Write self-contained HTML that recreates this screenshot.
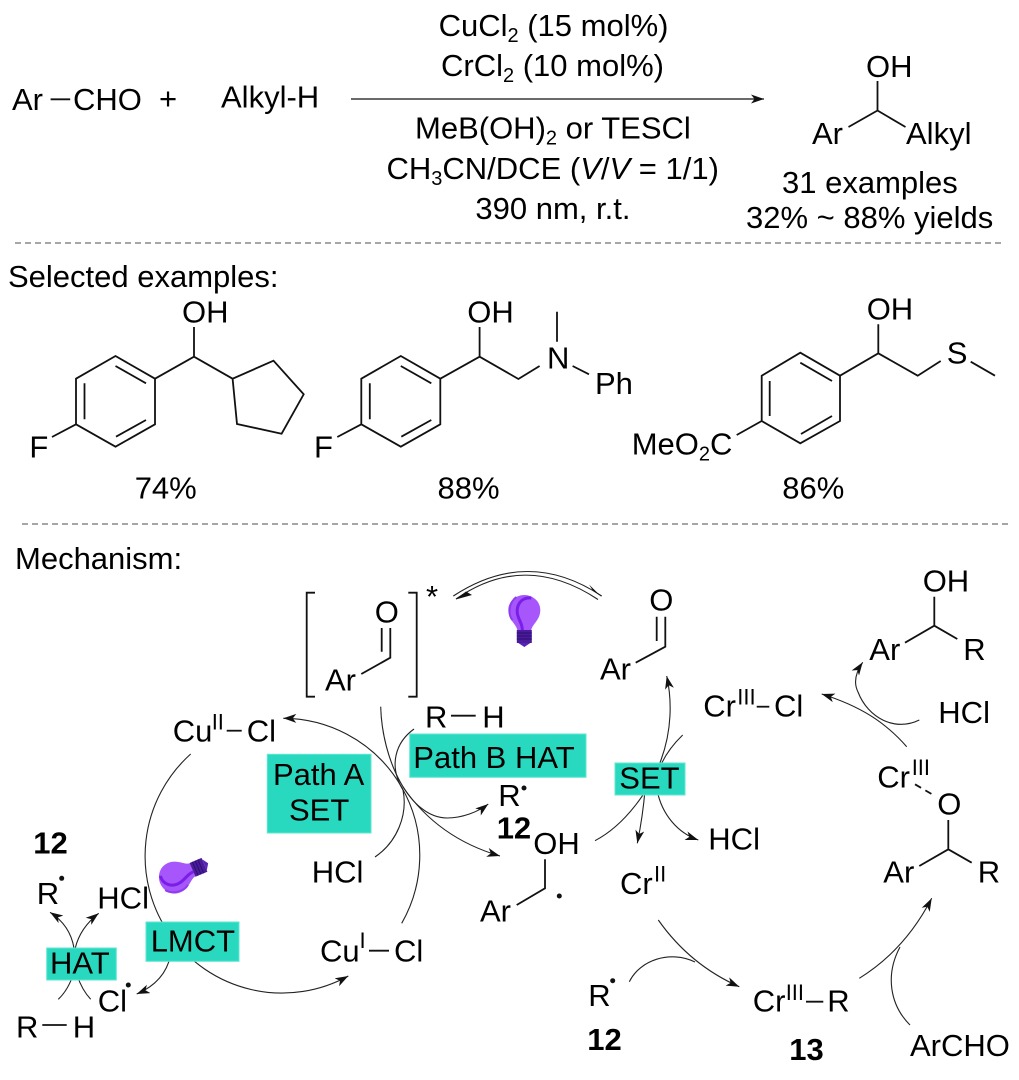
<!DOCTYPE html>
<html><head><meta charset="utf-8"><style>
html,body{margin:0;padding:0;background:#fff}
svg{display:block}
text{font-family:"Liberation Sans",sans-serif;font-size:31px;fill:#000}
.s{font-size:22px}
.b{font-weight:bold}
.l{fill:none;stroke:#111;stroke-width:1.8}
.a{fill:none;stroke:#222;stroke-width:1.1}
.box{fill:#28d9bf;stroke:#5fe6d2;stroke-width:1}
</style></head><body>
<svg width="1019" height="1080" viewBox="0 0 1019 1080" xmlns="http://www.w3.org/2000/svg">
<defs>
<marker id="h" markerUnits="userSpaceOnUse" markerWidth="14" markerHeight="10" refX="13" refY="4.5" orient="auto"><path d="M13,4.5 L0,0 L3.5,4.5 L0,9 Z" fill="#111"/></marker>
<g id="bulb">
<path d="M-7,19 C-8,13 -16,9 -16,-1 C-16,-10 -8,-16 0,-16 C8,-16 16,-10 16,-1 C16,9 8,13 7,19 Z" fill="#a656fb"/>
<path d="M7,-13 C-3,-14 -8,-6 -7,2 C-6,9 -2,12 -2,19" fill="none" stroke="#7a1fe8" stroke-width="3"/>
<path d="M-8,-14 C-16,-8 -16,4 -12,9" fill="none" stroke="#8f3cf0" stroke-width="2"/>
<rect x="-7.5" y="19" width="15" height="13" fill="#4a1c9c"/>
<path d="M-7.5,22 H7.5 M-7.5,25 H7.5 M-7.5,28 H7.5" stroke="#2e0d70" stroke-width="1"/>
<path d="M-6,32 L0,36 L6,32 Z" fill="#5a22b8"/>
</g>
</defs>

<!-- Top scheme -->
<text x="12" y="110">Ar</text>
<path class="l" d="M50.6 99.3H70.2"/>
<text x="73" y="110">CHO</text>
<text x="159" y="109">+</text>
<text x="221" y="107.5">Alkyl-H</text>
<path d="M351 99H764" fill="none" stroke="#111" stroke-width="1.2" marker-end="url(#h)"/>
<text x="438.6" y="36">CuCl<tspan font-size="20" dy="6">2</tspan><tspan dy="-6"> (15 mol%)</tspan></text>
<text x="441" y="76">CrCl<tspan font-size="20" dy="6">2</tspan><tspan dy="-6"> (10 mol%)</tspan></text>
<text x="415" y="138.5">MeB(OH)<tspan font-size="20" dy="6">2</tspan><tspan dy="-6"> or TESCl</tspan></text>
<text x="386.5" y="179">CH<tspan font-size="20" dy="6">3</tspan><tspan dy="-6">CN/DCE (</tspan><tspan font-style="italic">V</tspan>/<tspan font-style="italic">V</tspan> = 1/1)</text>
<text x="475.4" y="219">390 nm, r.t.</text>

<text x="866" y="77">OH</text>
<path class="l" d="M877.5 81V110.5M848.5 127L877.5 110.5L905.5 127"/>
<text x="812" y="144">Ar</text>
<text x="906" y="144">Alkyl</text>
<text x="782" y="193">31 examples</text>
<text x="746" y="228">32% ~ 88% yields</text>

<path d="M15 243H1005" stroke="#888" stroke-width="1.6" stroke-dasharray="6 4" fill="none"/>
<text x="8" y="287">Selected examples:</text>

<!-- Molecule 1 -->
<text x="182" y="322.7">OH</text>
<path class="l" d="M194 327V356.7M155 378.7L194 356.7L232.6 378.7L273.5 360.7L303.7 394.3L281.6 433.7L237 424L232.6 378.7"/>
<path class="l" d="M115.5 356L155 378.7V424.3L115.5 446.7L76 424.3V378.7Z"/>
<path class="l" d="M115.5 366L146 383.3M84.5 383.3V419.3M116 436.7L146 420M76 424.3L52 437"/>
<text x="29.4" y="457.3">F</text>
<text x="134.7" y="498.3">74%</text>

<!-- Molecule 2 -->
<text x="467.3" y="322.7">OH</text>
<path class="l" d="M479.6 327V356.7M440.3 378.7L479.6 356.7L518.4 379L539.6 366M557 311.7V341.7M572.6 366L589 374.3"/>
<path class="l" d="M400.8 356L440.3 378.7V424.3L400.8 446.7L361.3 424.3V378.7Z"/>
<path class="l" d="M400.8 366L431.3 383.3M369.8 383.3V419.3M401.3 436.7L431.3 420M361.3 424.3L337.3 437"/>
<text x="547" y="368.3">N</text>
<text x="595" y="394">Ph</text>
<text x="314" y="457.3">F</text>
<text x="437.5" y="498.3">88%</text>

<!-- Molecule 3 -->
<text x="866.7" y="319.3">OH</text>
<path class="l" d="M878.3 324.3V353.3M840 375.7L878.3 353.3L917.7 375.7L940.7 361M970.7 361.7L995 375.7"/>
<path class="l" d="M800.3 352.7L840 375.7V421L800.3 443.3L761.7 421V375.7Z"/>
<path class="l" d="M800.3 362.7L832 381M769.7 381V416M801 434L832 416M761.7 421L736.7 435"/>
<text x="946.7" y="363.3">S</text>
<text x="631.7" y="454.3">MeO<tspan font-size="20" dy="6">2</tspan><tspan dy="-6">C</tspan></text>
<text x="782.3" y="498.3">86%</text>

<path d="M22 524H1012" stroke="#888" stroke-width="1.6" stroke-dasharray="6 4" fill="none"/>
<text x="15" y="569">Mechanism:</text>

<!-- Arcs under boxes -->
<g class="a">
<path d="M190.7 754A137 137 0 0 0 348.3 976" marker-end="url(#h)"/>
<path d="M401.7 923.3A137 137 0 0 0 283.3 718.3" marker-end="url(#h)"/>
<path d="M375 857C397 842 408 815 403 790"/>
<path d="M414 729C396 742 388 765 403 790"/>
<path d="M380.7 706.7C382 760 410 818 447 818C462 818 478 812 488.3 804" marker-end="url(#h)"/>
<path d="M403 787Q438 838 500 856" marker-end="url(#h)"/>
<path d="M595 840.7C625 825 650 790 661 760C672 730 672 700 666.7 676" marker-end="url(#h)"/>
<path d="M682.7 735Q665 752 658 772"/>
<path d="M645 790Q643 815 637.3 843.3" marker-end="url(#h)"/>
<path d="M657 790C662 815 678 833 698.3 840" marker-end="url(#h)"/>
<path d="M906.7 746.7C885 722 860 706 821.7 694" marker-end="url(#h)"/>
<path d="M919.3 720C895 732 868 718 858 692C853 682 856 672 862.7 662.3" marker-end="url(#h)"/>
<path d="M859.3 978.3Q905 950 931.7 898.3" marker-end="url(#h)"/>
<path d="M910 1025C890 1005 885 975 900 947"/>
<path d="M658.3 920Q690 965 739.3 986.7" marker-end="url(#h)"/>
<path d="M629.3 981.7C640 960 670 950 695 962"/>
<path d="M74 948Q70 925 50 912.3" marker-end="url(#h)"/>
<path d="M75.3 948Q80 928 98.7 913.3" marker-end="url(#h)"/>
<path d="M73 975Q68 990 58.3 999.3"/>
<path d="M77 975Q82 990 90.7 999.3"/>
<path d="M170.7 955Q165 982 136.7 994" marker-end="url(#h)"/>
<path d="M453.3 596Q528 547 601.7 596"/>
<path d="M598 599.5Q525 551 456 599"/>
</g>
<path d="M601.7 597L589 584.5L592.5 590Z" fill="#111"/>
<path d="M455.7 599.5L472 595L466 591.5Z" fill="#111"/>

<!-- Boxes -->
<rect class="box" x="267.3" y="754.3" width="103.7" height="78.7"/>
<rect class="box" x="409.7" y="734" width="176.3" height="43.3"/>
<rect class="box" x="615" y="763" width="70" height="32"/>
<rect class="box" x="146" y="922" width="93" height="39.3"/>
<rect class="box" x="46.7" y="948" width="69.6" height="32"/>
<text x="273" y="785">Path A</text>
<text x="289" y="820.7">SET</text>
<text x="413.3" y="768">Path B HAT</text>
<text x="619.3" y="788.3">SET</text>
<text x="150.7" y="951.7">LMCT</text>
<text x="50" y="973.3">HAT</text>

<!-- Excited aldehyde -->
<path class="l" d="M315 592.7H306.7V696.7H315M408.3 592.7H416.7V696.7H408.3"/>
<text x="426" y="607">*</text>
<text x="374.7" y="622.7">O</text>
<path class="l" d="M381.7 628V651.7M390.3 628V657.7L361.3 674"/>
<text x="325" y="690.7">Ar</text>

<use href="#bulb" x="524.3" y="611"/>

<!-- Aldehyde -->
<text x="649.3" y="610.7">O</text>
<path class="l" d="M656.7 616.7V641M665.3 616.7V646.7L635.7 662.7"/>
<text x="600" y="679.3">Ar</text>

<!-- R-H middle -->
<text x="425" y="727.7">R</text>
<path class="l" d="M451 715.7H475.7"/>
<text x="482.3" y="727.7">H</text>
<text x="498.3" y="806">R</text>
<circle cx="524" cy="788" r="2.5" fill="#111"/>
<text class="b" x="496.7" y="838.3">12</text>
<text x="533.3" y="854">OH</text>
<path class="l" d="M545 859.3V888.3L516.7 905"/>
<circle cx="559.3" cy="896" r="2.5" fill="#111"/>
<text x="480" y="921.7">Ar</text>
<text x="311.7" y="882.7">HCl</text>

<!-- Cu -->
<text x="172.7" y="741.7">Cu</text>
<text class="s" x="211.7" y="729.3">II</text>
<path class="l" d="M226.7 730.7H241.7"/>
<text x="246.7" y="741.7">Cl</text>
<text x="320" y="961.7">Cu</text>
<text class="s" x="359.5" y="948">I</text>
<path class="l" d="M369 950.7H389"/>
<text x="394" y="961.7">Cl</text>
<use href="#bulb" transform="translate(175 877.3) rotate(-113)"/>

<!-- Left HAT -->
<text class="b" x="33.3" y="853.3">12</text>
<text x="36.7" y="904">R</text>
<circle cx="61.7" cy="878.3" r="2.5" fill="#111"/>
<text x="97.3" y="908.3">HCl</text>
<text x="97.7" y="1011.7">Cl</text>
<circle cx="128.3" cy="985" r="2.5" fill="#111"/>
<text x="16" y="1037.3">R</text>
<path class="l" d="M42.3 1025H66.7" stroke-width="1.2"/>
<text x="72.7" y="1037.3">H</text>

<!-- Right cycle -->
<text x="620" y="894">Cr</text>
<text class="s" x="654" y="881.7">II</text>
<text x="708.3" y="849.3">HCl</text>
<text x="703.3" y="716.7">Cr</text>
<text class="s" x="737.3" y="704.7">III</text>
<path class="l" d="M756.7 706.7H769.3"/>
<text x="774" y="716.7">Cl</text>
<text x="938.3" y="723">HCl</text>

<text x="922.7" y="591.7">OH</text>
<path class="l" d="M934.3 596.7V625.7L905 642.7M934.3 625.7L957.3 639"/>
<text x="869.3" y="660">Ar</text>
<text x="963.3" y="660">R</text>

<text x="877.3" y="787.3">Cr</text>
<text class="s" x="911.7" y="775">III</text>
<path d="M915 784.3L935 796" fill="none" stroke="#111" stroke-width="1.8" stroke-dasharray="7 5"/>
<text x="937.3" y="814.3">O</text>
<path class="l" d="M948.3 820V849.3L919.3 866M948.3 849.3L971.7 862.7"/>
<text x="883.3" y="882.7">Ar</text>
<text x="977.7" y="882.7">R</text>

<text x="910" y="1056">ArCHO</text>
<text x="752.7" y="1011.7">Cr</text>
<text class="s" x="785.7" y="1000">III</text>
<path class="l" d="M806 1001.7H823.3"/>
<text x="827.3" y="1011.7">R</text>
<text class="b" x="789.3" y="1060">13</text>
<text x="588.3" y="1006">R</text>
<circle cx="612.7" cy="980.7" r="2.5" fill="#111"/>
<text class="b" x="587.3" y="1050">12</text>
</svg>
</body></html>
